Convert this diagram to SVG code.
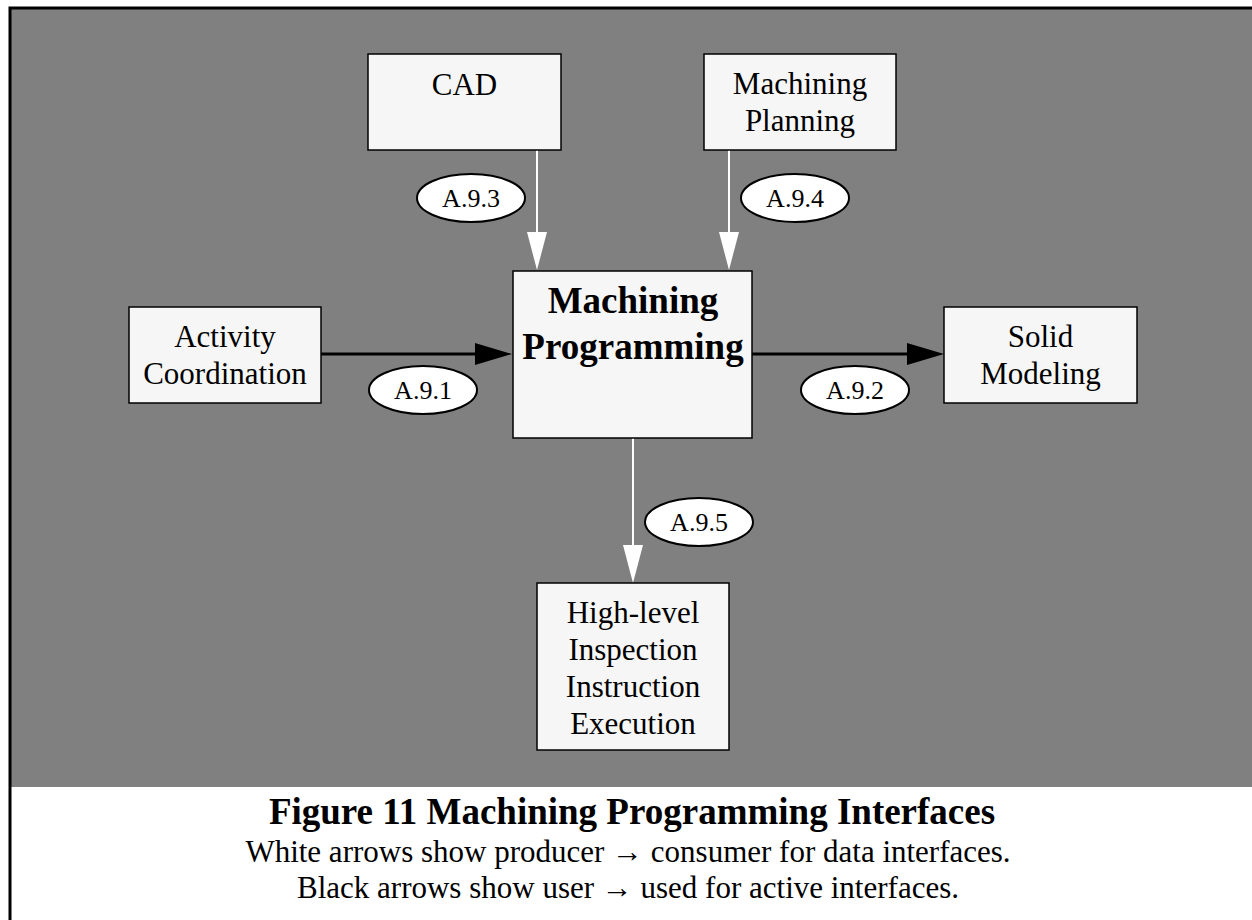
<svg xmlns="http://www.w3.org/2000/svg" width="1252" height="920" viewBox="0 0 1252 920">
<style>
.box{fill:#f6f6f6;stroke:#000;stroke-width:1.5}
.lbl{font-family:"Liberation Serif","Times New Roman",serif;font-size:31px;fill:#000;text-anchor:middle}
.main{font-family:"Liberation Serif","Times New Roman",serif;font-size:37px;font-weight:bold;fill:#000;text-anchor:middle}
.ell{fill:#fff;stroke:#000;stroke-width:2}
.etx{font-family:"Liberation Serif","Times New Roman",serif;font-size:26px;fill:#000;text-anchor:middle}
.wl{stroke:#fff;stroke-width:2;fill:none}
.bl{stroke:#000;stroke-width:3;fill:none}
.cap{font-family:"Liberation Serif","Times New Roman",serif;font-size:37px;font-weight:bold;fill:#000;text-anchor:middle}
.sub{font-family:"Liberation Serif","Times New Roman",serif;font-size:31px;fill:#000;text-anchor:middle}
</style>
<defs>
<marker id="wa" markerUnits="userSpaceOnUse" markerWidth="40" markerHeight="24" refX="30" refY="12" orient="auto">
<path d="M0,2 L38,12 L0,22 z" fill="#fff"/>
</marker>
<marker id="ba" markerUnits="userSpaceOnUse" markerWidth="40" markerHeight="26" refX="30" refY="13" orient="auto">
<path d="M0,2 L37,13 L0,24 z" fill="#000"/>
</marker>
</defs>
<rect x="0" y="0" width="1252" height="920" fill="#fff"/>
<rect x="11" y="9" width="1241" height="778" fill="#808080"/>
<path d="M10,920 V8 H1252" fill="none" stroke="#000" stroke-width="3"/>

<g id="connectors">
<line class="wl" x1="537" y1="150" x2="537" y2="262" marker-end="url(#wa)"/>
<line class="wl" x1="729" y1="150" x2="729" y2="262" marker-end="url(#wa)"/>
<line class="bl" x1="321" y1="354" x2="505" y2="354" marker-end="url(#ba)"/>
<line class="bl" x1="752" y1="354" x2="937" y2="354" marker-end="url(#ba)"/>
<line class="wl" x1="633" y1="438" x2="633" y2="575" marker-end="url(#wa)"/>
</g>

<g id="cad"><rect class="box" x="368" y="54" width="193" height="96"/><text class="lbl" x="464.5" y="95">CAD</text></g>
<g id="machining-planning"><rect class="box" x="704" y="54" width="192" height="96"/><text class="lbl" x="800" y="94">Machining</text><text class="lbl" x="800" y="131">Planning</text></g>
<g id="activity-coordination"><rect class="box" x="129" y="307" width="192" height="96"/><text class="lbl" x="225" y="347">Activity</text><text class="lbl" x="225" y="384">Coordination</text></g>
<g id="machining-programming"><rect class="box" x="513" y="271" width="239" height="167"/><text class="main" x="633" y="313">Machining</text><text class="main" x="633" y="359">Programming</text></g>
<g id="solid-modeling"><rect class="box" x="944" y="307" width="193" height="96"/><text class="lbl" x="1040.5" y="347">Solid</text><text class="lbl" x="1040.5" y="384">Modeling</text></g>
<g id="inspection-execution"><rect class="box" x="537" y="583" width="192" height="167"/><text class="lbl" x="633" y="623">High-level</text><text class="lbl" x="633" y="660">Inspection</text><text class="lbl" x="633" y="697">Instruction</text><text class="lbl" x="633" y="734">Execution</text></g>

<g id="label-a93"><ellipse class="ell" cx="471" cy="198" rx="54" ry="24"/><text class="etx" x="471" y="207">A.9.3</text></g>
<g id="label-a94"><ellipse class="ell" cx="795" cy="198" rx="54" ry="24"/><text class="etx" x="795" y="207">A.9.4</text></g>
<g id="label-a91"><ellipse class="ell" cx="423" cy="390" rx="54" ry="24"/><text class="etx" x="423" y="399">A.9.1</text></g>
<g id="label-a92"><ellipse class="ell" cx="855" cy="390" rx="54" ry="24"/><text class="etx" x="855" y="399">A.9.2</text></g>
<g id="label-a95"><ellipse class="ell" cx="699" cy="522" rx="54" ry="24"/><text class="etx" x="699" y="531">A.9.5</text></g>

<g id="caption">
<text class="cap" x="632" y="824">Figure 11 Machining Programming Interfaces</text>
<text class="sub" x="628" y="862">White arrows show producer → consumer for data interfaces.</text>
<text class="sub" x="628" y="898">Black arrows show user → used for active interfaces.</text>
</g>
</svg>
